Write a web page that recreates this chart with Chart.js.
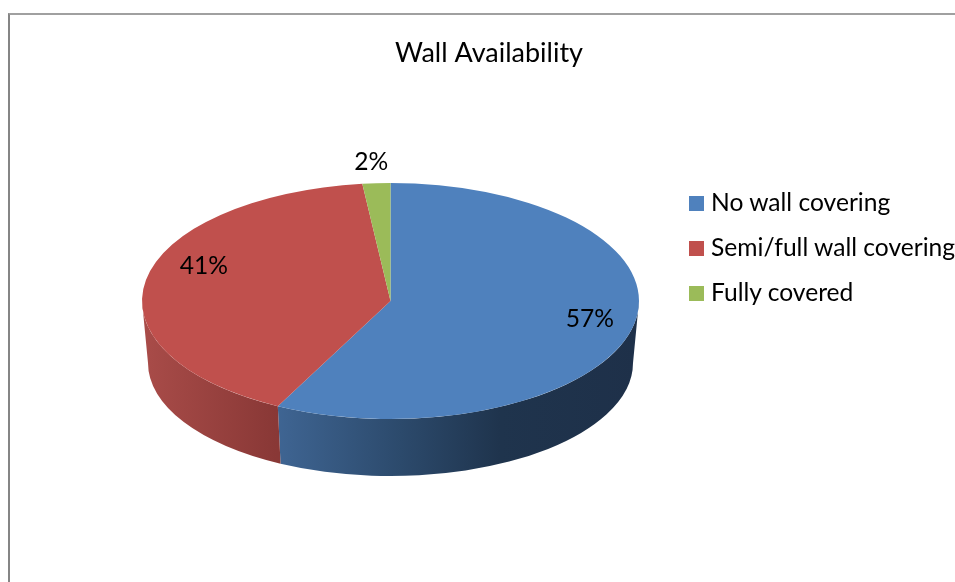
<!DOCTYPE html>
<html>
<head>
<meta charset="utf-8">
<title>Wall Availability</title>
<script src="https://cdn.jsdelivr.net/npm/chart.js@4"></script>
<style>
  html, body { margin: 0; padding: 0; width: 955px; height: 582px; overflow: hidden; background: #fff; }
  #frame { position: absolute; left: 8px; top: 13px; width: 980px; height: 600px; box-sizing: border-box;
           border-left: 2px solid #858585; border-top: 2px solid #a0a0a0; }
  #pie { position: absolute; left: 0; top: 0; }
  #legend { position: absolute; left: 689px; top: 179px; font: 24.6px Lato, sans-serif; color: #000; white-space: nowrap; }
  .item { height: 45px; line-height: 45px; }
  .swatch { display: inline-block; width: 15px; height: 15px; margin-right: 7px; }
</style>
</head>
<body>
<div id="frame"></div>
<canvas id="pie" width="978" height="582"></canvas>
<div id="legend"></div>
<script>
"use strict";
const chartTitle = "Wall Availability";
const categories = ["No wall covering", "Semi/full wall covering", "Fully covered"];
const shares = [57.49, 40.7, 1.81];
const topColors = ["#4f81bd", "#c0504d", "#9bbb59"];
// side wall colour stops, left to right
const sideColors = [
  [[0.27, "#3f6593"], [0.52, "#2c4a6c"], [0.72, "#1f344d"], [1, "#1e3049"]],
  [[0, "#a94c49"], [0.27, "#893836"]],
  [[0, "#7d9a45"], [1, "#7d9a45"]],
];
const labelNudges = [[6, -4], [9, -18], [-8, -45]];

const pieMiddleX = 390.5;
const pieMiddleY = 301;
const squash = 118 / 248.5;

const pie3d = {
  id: "pie3d",
  beforeDatasetsDraw(chart) {
    const ctx = chart.ctx;
    const arcs = chart.getDatasetMeta(0).data;
    const cx = pieMiddleX;
    const rx = arcs[0].outerRadius;
    ctx.save();
    // front wall, bottom half of the pie only
    arcs.forEach((arc, i) => {
      const from = Math.max(arc.startAngle, 0);
      const to = Math.min(arc.endAngle, Math.PI);
      if (to <= from) return;
      const grad = ctx.createLinearGradient(cx - rx, 0, cx + rx, 0);
      sideColors[i].forEach((stop) => grad.addColorStop(stop[0], stop[1]));
      ctx.beginPath();
      ctx.ellipse(cx, pieMiddleY, rx, rx * squash, 0, from, to);
      ctx.ellipse(cx, pieMiddleY + 62, rx - 6, rx * squash - 5, 0, to, from, true);
      ctx.closePath();
      ctx.fillStyle = grad;
      ctx.fill();
    });
    ctx.restore();
    // top face: squash the round pie into an ellipse
    ctx.save();
    ctx.translate(cx, pieMiddleY);
    ctx.scale(1, squash);
    ctx.translate(-arcs[0].x, -arcs[0].y);
  },
  afterDatasetsDraw(chart) {
    const ctx = chart.ctx;
    ctx.restore();
    const arcs = chart.getDatasetMeta(0).data;
    ctx.save();
    ctx.font = "24.6px Lato, sans-serif";
    ctx.fillStyle = "#000";
    ctx.textAlign = "center";
    ctx.textBaseline = "middle";
    arcs.forEach((arc, i) => {
      const mid = (arc.startAngle + arc.endAngle) / 2;
      const x = pieMiddleX + 0.8 * arc.outerRadius * Math.cos(mid) + labelNudges[i][0];
      const y = pieMiddleY + 0.8 * arc.outerRadius * squash * Math.sin(mid) + labelNudges[i][1];
      ctx.fillText(Math.round(shares[i]) + "%", x, y);
    });
    ctx.restore();
  },
};

new Chart(document.getElementById("pie"), {
  type: "pie",
  data: {
    labels: categories,
    datasets: [{ data: shares, backgroundColor: topColors, borderWidth: 0 }],
  },
  options: {
    responsive: false,
    animation: false,
    radius: 248.5,
    plugins: {
      legend: { display: false },
      tooltip: { enabled: false },
      title: {
        display: true,
        text: chartTitle,
        color: "#000",
        font: { family: "Lato, sans-serif", size: 27, weight: "normal" },
        padding: { top: 37, bottom: 10 },
      },
    },
  },
  plugins: [pie3d],
});

const legendBox = document.getElementById("legend");
categories.forEach((name, i) => {
  const row = document.createElement("div");
  row.className = "item";
  const swatch = document.createElement("span");
  swatch.className = "swatch";
  swatch.style.background = topColors[i];
  row.appendChild(swatch);
  row.appendChild(document.createTextNode(name));
  legendBox.appendChild(row);
});
</script>
</body>
</html>
